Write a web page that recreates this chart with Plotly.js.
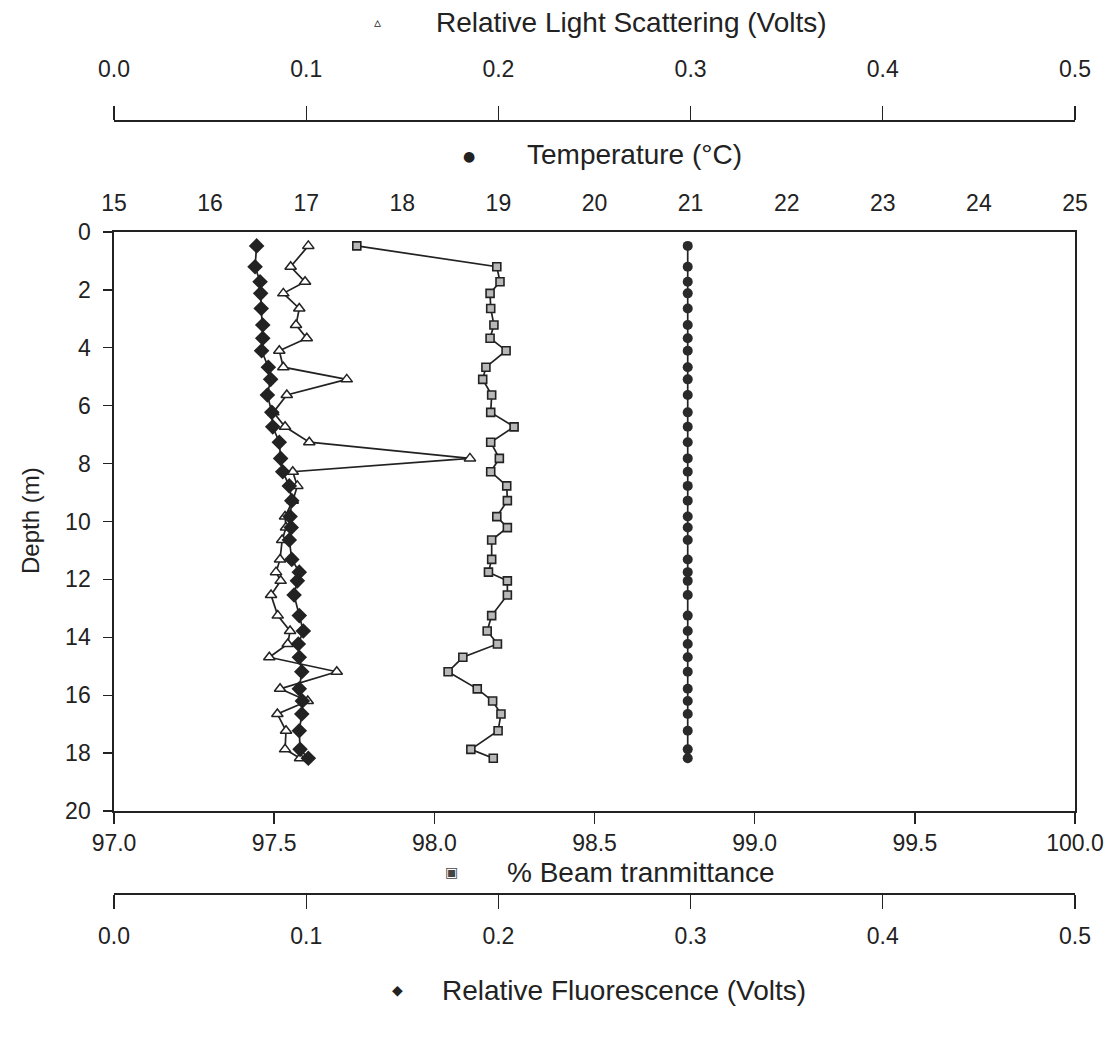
<!DOCTYPE html>
<html>
<head>
<meta charset="utf-8">
<script src="https://cdn.plot.ly/plotly-3.0.1.min.js"></script>
<style>
  html, body { margin: 0; padding: 0; background: #fff; }
  #chart { width: 1113px; height: 1042px; }
</style>
</head>
<body>
<div id="chart"></div>
<script>
// Depth of each sample (m)
const depth = [0.48, 1.2, 1.72, 2.12, 2.64, 3.21, 3.67, 4.1, 4.67, 5.09, 5.63, 6.23, 6.73, 7.26, 7.82, 8.28, 8.77, 9.28, 9.83, 10.21,
               10.64, 11.31, 11.75, 12.05, 12.54, 13.25, 13.78, 14.23, 14.69, 15.19, 15.78, 16.2, 16.65, 17.23, 17.87, 18.18];

// Temperature (°C)
const temperature = [20.97, 20.97, 20.97, 20.97, 20.97, 20.97, 20.97, 20.97, 20.97, 20.97, 20.97, 20.97, 20.97, 20.97, 20.97, 20.97, 20.97, 20.97,
                     20.97, 20.97, 20.97, 20.97, 20.97, 20.97, 20.97, 20.97, 20.97, 20.97, 20.97, 20.97, 20.97, 20.97, 20.97, 20.97, 20.97, 20.97];

// % Beam transmittance
const beam = [97.758, 98.195, 98.205, 98.174, 98.176, 98.186, 98.174, 98.224, 98.161, 98.151, 98.179, 98.176, 98.249, 98.176, 98.203, 98.176, 98.226, 98.228,
              98.195, 98.228, 98.179, 98.179, 98.169, 98.228, 98.228, 98.179, 98.165, 98.197, 98.089, 98.043, 98.134, 98.182, 98.208, 98.199, 98.114, 98.184];

// Relative light scattering (Volts)
const scattering = [0.1011, 0.0919, 0.0994, 0.0881, 0.0964, 0.0947, 0.1003, 0.0860, 0.0881, 0.1211, 0.0899, 0.0829, 0.0890, 0.1016, 0.1852, 0.0930, 0.0954, 0.0930,
                    0.0890, 0.0895, 0.0875, 0.0864, 0.0843, 0.0867, 0.0817, 0.0852, 0.0916, 0.0904, 0.0808, 0.1159, 0.0864, 0.1008, 0.0850, 0.0895, 0.0890, 0.0968];

// Relative fluorescence (Volts)
const fluorescence = [0.0742, 0.0734, 0.0760, 0.0763, 0.0766, 0.0774, 0.0774, 0.0768, 0.0803, 0.0815, 0.0798, 0.0821, 0.0826, 0.0860, 0.0867, 0.0878, 0.0912, 0.0925,
                      0.0916, 0.0922, 0.0912, 0.0925, 0.0964, 0.0954, 0.0937, 0.0964, 0.0985, 0.0959, 0.0964, 0.0977, 0.0964, 0.0980, 0.0977, 0.0964, 0.0968, 0.1011];

// Axis labels
const titleScattering = "Relative Light Scattering (Volts)";
const titleTemperature = "Temperature (°C)";
const titleBeam = "% Beam tranmittance";
const titleFluorescence = "Relative Fluorescence (Volts)";
const titleDepth = "Depth (m)";

const ink = "#222";
const FONT = "Liberation Sans, Arial, Helvetica, sans-serif";
const lineStyle = { color: ink, width: 1.7 };

const traces = [
  {
    x: beam, y: depth, xaxis: "x", yaxis: "y", type: "scatter", mode: "lines+markers",
    line: lineStyle,
    marker: { symbol: "square", size: 8, color: "#b8b8b8", line: { color: ink, width: 1.6 } },
    name: titleBeam
  },
  {
    x: temperature, y: depth, xaxis: "x2", yaxis: "y", type: "scatter", mode: "lines+markers",
    line: lineStyle,
    marker: { symbol: "circle", size: 10, color: "#2a2a2a" },
    name: titleTemperature
  },
  {
    x: scattering, y: depth, xaxis: "x3", yaxis: "y", type: "scatter", mode: "lines+markers",
    line: lineStyle,
    marker: { symbol: "triangle-up", size: 10, color: "#ffffff", line: { color: ink, width: 1.5 } },
    name: titleScattering
  },
  {
    x: fluorescence, y: depth, xaxis: "x4", yaxis: "y", type: "scatter", mode: "lines+markers",
    line: lineStyle,
    marker: { symbol: "diamond", size: 12, color: "#222" },
    name: titleFluorescence
  }
];

const T = 10, B = 10, H = 1042;
const paperH = H - T - B;
const py = (pix) => (H - B - pix) / paperH;          // pixel row -> paper y
const px = (pix) => (pix - 114) / (1113 - 114 - 38);  // pixel col -> paper x

const axisCommon = {
  showgrid: false, zeroline: false, showline: true, linecolor: ink, linewidth: 1.7,
  tickcolor: ink, tickwidth: 1.4, tickfont: { family: FONT, size: 23, color: ink }
};

const layout = {
  width: 1113, height: 1042,
  margin: { l: 114, r: 38, t: T, b: B },
  paper_bgcolor: "#fff", plot_bgcolor: "#fff",
  showlegend: false,
  font: { family: FONT, color: ink },
  xaxis: Object.assign({}, axisCommon, {
    range: [97, 100], dtick: 0.5, tickformat: ".1f", ticks: "outside", ticklen: 11,
    side: "bottom", anchor: "y", mirror: true, ticklabelstandoff: 0
  }),
  xaxis2: Object.assign({}, axisCommon, {
    range: [15, 25], dtick: 1, ticks: "", side: "top", anchor: "y", overlaying: "x",
    ticklabelstandoff: 10
  }),
  xaxis3: Object.assign({}, axisCommon, {
    range: [0, 0.5], dtick: 0.1, tickformat: ".1f", ticks: "outside", ticklen: 14,
    side: "top", anchor: "free", position: py(120), overlaying: "x", ticklabelstandoff: 20
  }),
  xaxis4: Object.assign({}, axisCommon, {
    range: [0, 0.5], dtick: 0.1, tickformat: ".1f", ticks: "outside", ticklen: 14,
    side: "bottom", anchor: "free", position: py(893), overlaying: "x", ticklabelstandoff: 8
  }),
  yaxis: Object.assign({}, axisCommon, {
    range: [20, 0], dtick: 2, ticks: "outside", ticklen: 9, mirror: true,
    domain: [py(811), py(232)], anchor: "x", ticklabelstandoff: 8
  }),
  annotations: [
    { text: "▵", x: px(377), y: py(22), font: { family: "DejaVu Sans", size: 14, color: ink } },
    { text: titleScattering, x: px(631), y: py(22), font: { family: FONT, size: 28, color: ink } },
    { text: "●", x: px(469), y: py(156), font: { family: "DejaVu Sans", size: 14, color: ink } },
    { text: titleTemperature, x: px(634), y: py(155), font: { family: FONT, size: 28, color: ink } },
    { text: "▣", x: px(451), y: py(872), font: { family: "DejaVu Sans", size: 14, color: "#444" } },
    { text: titleBeam, x: px(641), y: py(872), font: { family: FONT, size: 28, color: ink } },
    { text: "◆", x: px(397), y: py(990), font: { family: "DejaVu Sans", size: 14, color: ink } },
    { text: titleFluorescence, x: px(624), y: py(990), font: { family: FONT, size: 28, color: ink } },
    { text: titleDepth, x: px(30), y: py(521), textangle: -90, font: { family: FONT, size: 24, color: ink } }
  ].map(a => Object.assign({ xref: "paper", yref: "paper", xanchor: "center", yanchor: "middle", showarrow: false }, a))
};

Plotly.newPlot("chart", traces, layout, { displayModeBar: false, staticPlot: true });
</script>
</body>
</html>
